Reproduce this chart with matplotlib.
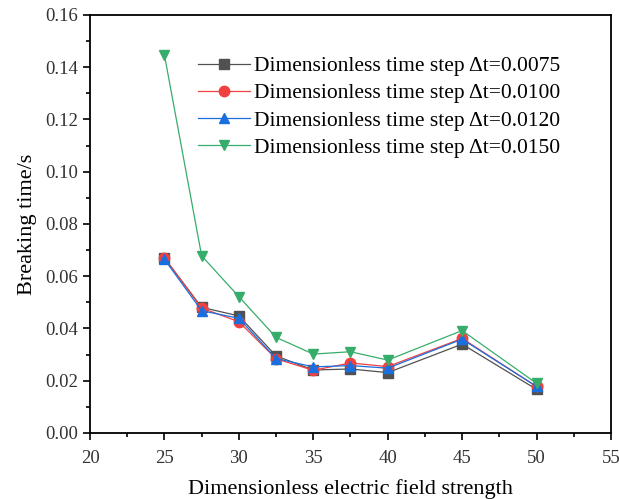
import matplotlib
matplotlib.use("Agg")
import matplotlib.pyplot as plt
from matplotlib.ticker import MultipleLocator, FormatStrFormatter

# field strength
x = [25, 27.5, 30, 32.5, 35, 37.5, 40, 45, 50]

# breaking time for each time step
t_0075 = [0.0670, 0.0481, 0.0448, 0.0295, 0.0241, 0.0245, 0.0231, 0.0340, 0.0167]
t_0100 = [0.0670, 0.0478, 0.0426, 0.0284, 0.0240, 0.0268, 0.0254, 0.0362, 0.0178]
t_0120 = [0.0665, 0.0468, 0.0439, 0.0285, 0.0253, 0.0258, 0.0248, 0.0359, 0.0178]
t_0150 = [0.1447, 0.0678, 0.0522, 0.0366, 0.0302, 0.0311, 0.0279, 0.0392, 0.0190]

labels = ["Dimensionless time step \u0394t=0.0075",
          "Dimensionless time step \u0394t=0.0100",
          "Dimensionless time step \u0394t=0.0120",
          "Dimensionless time step \u0394t=0.0150"]
colors = ["#515151", "#F14040", "#1A6FDF", "#37AD6B"]
markers = ["s", "o", "^", "v"]

plt.rcParams['font.family'] = ['Liberation Serif', 'DejaVu Serif']

fig = plt.figure(figsize=(6.19, 4.99), dpi=100)
ax = fig.add_axes([0.1454, 0.1323, 0.8416, 0.8377])

for y, lab, c, m in zip([t_0075, t_0100, t_0120, t_0150], labels, colors, markers):
    ax.plot(x, y, color=c, marker=m, markersize=7.5, linewidth=0.9, label=lab)

ax.set_xlim(20, 55)
ax.set_ylim(0, 0.16)
ax.xaxis.set_major_locator(MultipleLocator(5))
ax.xaxis.set_minor_locator(MultipleLocator(2.5))
ax.yaxis.set_major_locator(MultipleLocator(0.02))
ax.yaxis.set_minor_locator(MultipleLocator(0.01))
ax.yaxis.set_major_formatter(FormatStrFormatter('%.2f'))
ax.tick_params(which='major', direction='out', length=5, width=1.2,
               labelsize=13.5, labelcolor='#333333')
ax.tick_params(axis='x', which='major', pad=7)
ax.tick_params(which='minor', direction='out', length=3, width=1.2)
for s in ax.spines.values():
    s.set_linewidth(1.3)

ax.set_xlabel("Dimensionless electric field strength", fontsize=16, labelpad=9)
ax.set_ylabel("Breaking time/s", fontsize=16, labelpad=6)

ax.legend(loc='upper left', bbox_to_anchor=(0.1915, 0.922), frameon=False,
          fontsize=15.5, handlelength=2.4, labelspacing=0.33,
          handletextpad=0.2, borderaxespad=0)

fig.savefig("out.png", dpi=100)
